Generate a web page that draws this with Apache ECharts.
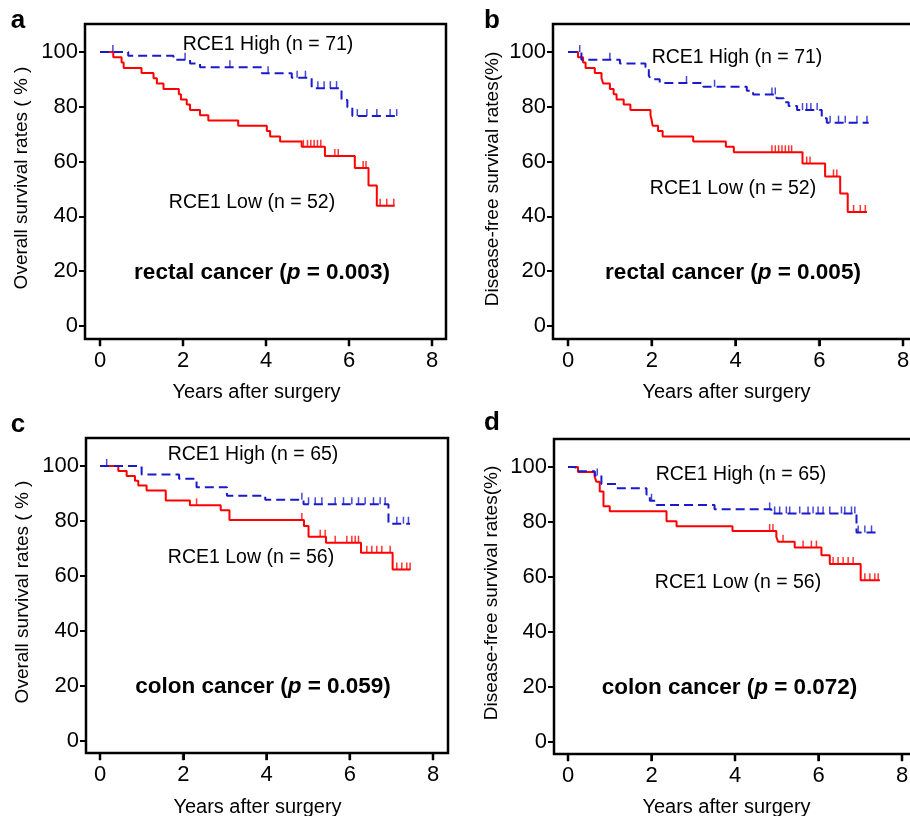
<!DOCTYPE html>
<html><head><meta charset="utf-8">
<script src="https://cdn.jsdelivr.net/npm/echarts@6/dist/echarts.min.js"></script>
<style>html,body{margin:0;padding:0;background:#fff}#c{width:910px;height:816px}</style>
</head><body><div id="c"></div><script>
// ---------- DATA (years after surgery, survival %) ----------
const xTicks = [0, 2, 4, 6, 8];
const yTicks = [0, 20, 40, 60, 80, 100];

// a: rectal cancer, overall survival
const aHigh = [[0,100],[0.68,98.6],[1.77,97.2],[2.17,95.8],[2.41,94.4],[3.9,92.2],[4.62,90.6],[5.1,86.8],[5.82,82.5],[5.96,79.8],[6.08,76.6],[7.18,76.6]];
const aHighCens = [0.31,2.05,3.13,4.05,4.75,4.95,5.25,5.4,5.55,5.7,6.2,6.43,6.67,6.99,7.15];
const aLow = [[0,100],[0.32,98.1],[0.52,96.2],[0.57,94.2],[1.0,92.3],[1.29,90.4],[1.37,88.5],[1.53,86.5],[1.9,84.6],[1.95,82.7],[2.09,80.8],[2.17,78.8],[2.41,76.9],[2.61,75.0],[3.33,73.1],[4.02,71.2],[4.1,69.2],[4.34,67.3],[4.86,65.4],[5.42,62.0],[6.14,57.7],[6.47,51.3],[6.67,43.9],[7.1,43.9]];
const aLowCens = [4.9,5.0,5.08,5.16,5.24,5.32,5.66,5.74,6.34,6.41,6.75,6.91,7.08];

// b: rectal cancer, disease-free survival
const bHigh = [[0,100],[0.32,97.2],[1.24,95.8],[1.85,94.4],[1.93,91.5],[1.97,90.1],[2.19,88.7],[3.23,87.3],[4.27,85.9],[4.42,84.5],[4.98,83.1],[5.15,81.7],[5.27,80.3],[5.47,78.8],[6.06,75.8],[6.18,74.2],[7.18,74.2]];
const bHighCens = [0.28,1.0,2.83,3.5,4.87,4.95,5.6,5.7,5.8,5.95,6.26,6.46,6.62,6.9,7.14];
const bLow = [[0,100],[0.24,98.1],[0.36,96.2],[0.42,94.2],[0.64,92.3],[0.8,90.4],[0.84,88.5],[1.0,86.5],[1.09,84.6],[1.16,82.7],[1.33,80.8],[1.49,78.8],[1.97,76.9],[2.0,75.0],[2.02,73.1],[2.15,71.2],[2.26,69.2],[2.99,67.3],[3.77,65.4],[3.96,63.4],[5.6,59.3],[6.14,54.6],[6.5,48.4],[6.68,41.6],[7.14,41.6]];
const bLowCens = [4.87,4.95,5.03,5.11,5.19,5.27,5.34,5.7,5.78,6.34,6.42,6.82,6.98,7.1];

// c: colon cancer, overall survival
const cHigh = [[0,100],[1.0,96.9],[1.9,95.4],[2.32,92.3],[3.05,89.2],[3.97,87.7],[4.89,86.1],[6.93,79.0],[7.45,79.0]];
const cHighCens = [0.16,4.85,5.01,5.17,5.33,5.65,5.85,6.05,6.21,6.37,6.57,6.73,6.85,7.13,7.29,7.41];
const cLow = [[0,100],[0.44,98.2],[0.64,96.4],[0.84,94.6],[0.92,92.9],[1.12,91.1],[1.58,87.5],[2.16,85.7],[2.9,83.9],[3.11,80.4],[4.9,78.2],[5.01,74.3],[5.43,72.1],[6.27,68.5],[7.03,62.4],[7.46,62.4]];
const cLowCens = [2.32,4.85,5.29,5.41,5.65,5.93,6.05,6.13,6.21,6.41,6.53,6.65,6.77,6.97,7.13,7.25,7.37,7.45];

// d: colon cancer, disease-free survival
const dHigh = [[0,100],[0.18,98.5],[0.64,96.9],[0.8,93.8],[1.16,92.3],[1.88,90.0],[1.96,87.7],[2.12,86.2],[3.51,84.6],[4.87,83.1],[6.91,76.2],[7.47,76.2]];
const dHighCens = [0.7,2.0,4.83,4.95,5.07,5.23,5.31,5.55,5.75,5.87,5.99,6.11,6.27,6.55,6.63,6.79,6.87,6.95,7.11,7.27];
const dLow = [[0,100],[0.24,98.2],[0.64,96.4],[0.68,94.6],[0.76,91.1],[0.85,85.7],[1.0,83.9],[2.36,80.3],[2.6,78.5],[3.94,76.7],[4.99,74.6],[5.03,72.8],[5.43,70.7],[6.07,67.9],[6.27,64.7],[7.01,58.8],[7.47,58.8]];
const dLowCens = [4.83,4.91,5.15,5.63,5.83,5.95,6.35,6.47,6.59,6.71,6.83,7.11,7.23,7.35,7.43];

const panelLetters = ['a','b','c','d'];
const yTitles = ['Overall survival rates ( % )','Disease-free survival rates(%)','Overall survival rates ( % )','Disease-free survival rates(%)'];
const xTitle = 'Years after surgery';
const highLabels = ['RCE1 High (n = 71)','RCE1 High (n = 71)','RCE1 High (n = 65)','RCE1 High (n = 65)'];
const lowLabels = ['RCE1 Low (n = 52)','RCE1 Low (n = 52)','RCE1 Low (n = 56)','RCE1 Low (n = 56)'];
const cancerNames = ['rectal cancer','rectal cancer','colon cancer','colon cancer'];
const pValues = ['0.003','0.005','0.059','0.072'];

// ---------- LAYOUT ----------
const FONT = '"Liberation Sans", Arial, Helvetica, sans-serif';
const RED = '#ff0000', BLUE = '#1a1acd';
const TICK_LEN = 7;
const panels = [
  {high:aHigh, highC:aHighCens, low:aLow, lowC:aLowCens,
   data:{left:100,top:52,width:332,height:274}, frame:{left:85,top:24,width:361,height:315},
   letter:[18,21], yT:[22,178], xT:[256.5,392], hi:[268,45], lo:[252,203], ct:[262,273]},
  {high:bHigh, highC:bHighCens, low:bLow, lowC:bLowCens,
   data:{left:568,top:52,width:335,height:274}, frame:{left:553,top:24,width:380,height:315},
   letter:[492,21], yT:[493,179], xT:[726.5,392], hi:[737,58], lo:[733,189], ct:[733,273]},
  {high:cHigh, highC:cHighCens, low:cLow, lowC:cLowCens,
   data:{left:100,top:466,width:333,height:275}, frame:{left:86,top:438,width:362,height:315},
   letter:[18,425], yT:[23,592], xT:[257.5,807], hi:[253,455], lo:[251,558], ct:[263,687]},
  {high:dHigh, highC:dHighCens, low:dLow, lowC:dLowCens,
   data:{left:568,top:467,width:334,height:275}, frame:{left:554,top:439,width:380,height:315},
   letter:[492,423], yT:[492,593], xT:[726.5,807], hi:[741,475], lo:[738,583], ct:[729.5,688]}
];

function valueAt(steps, t) {
  let v = steps[0][1];
  for (const p of steps) { if (p[0] <= t) v = p[1]; else break; }
  return v;
}

const xMin = xTicks[0], xMax = xTicks[xTicks.length-1];
const grid = [], xAxis = [], yAxis = [], series = [], graphic = [];
panels.forEach((p, i) => {
  grid.push(Object.assign({containLabel:false, outerBoundsMode:'none', show:false}, p.data));
  const yOff = p.data.left - p.frame.left;
  xAxis.push({type:'value', gridIndex:i, min:xMin, max:xMax, show:false});
  yAxis.push({type:'value', gridIndex:i, min:yTicks[0], max:yTicks[yTicks.length-1], interval:20,
    position:'left', offset:yOff,
    axisLine:{show:true, onZero:false, lineStyle:{color:'#000', width:2}}, splitLine:{show:false},
    axisTick:{show:true, length:6, lineStyle:{color:'#000', width:2}},
    axisLabel:{fontSize:22, color:'#000', fontFamily:FONT, margin:7}});
  series.push({type:'line', xAxisIndex:i, yAxisIndex:i, data:p.low, step:'end', symbol:'none',
    lineStyle:{color:RED, width:2}, z:2, silent:true});
  series.push({type:'scatter', xAxisIndex:i, yAxisIndex:i,
    data:p.lowC.map(t => [t, valueAt(p.low, t)]), symbol:'rect', symbolSize:[1.5,7], symbolOffset:[0,-3.5],
    itemStyle:{color:RED}, z:2, silent:true});
  series.push({type:'line', xAxisIndex:i, yAxisIndex:i, data:p.high, step:'end', symbol:'none',
    lineStyle:{color:BLUE, width:2, type:[9,5]}, z:3, silent:true});
  series.push({type:'scatter', xAxisIndex:i, yAxisIndex:i,
    data:p.highC.map(t => [t, valueAt(p.high, t)]), symbol:'rect', symbolSize:[1.5,7], symbolOffset:[0,-3.5],
    itemStyle:{color:BLUE}, z:3, silent:true});

  graphic.push({type:'text', x:p.letter[0], y:p.letter[1], silent:true,
    style:{text:panelLetters[i], font:'bold 26px '+FONT, fill:'#000', textAlign:'center', textVerticalAlign:'middle', align:'center', verticalAlign:'middle'}});
  graphic.push({type:'text', x:p.yT[0], y:p.yT[1], rotation:Math.PI/2, silent:true,
    style:{text:yTitles[i], font:'19px '+FONT, fill:'#000', textAlign:'center', textVerticalAlign:'middle', align:'center', verticalAlign:'middle'}});
  graphic.push({type:'text', x:p.xT[0], y:p.xT[1], silent:true,
    style:{text:xTitle, font:'20px '+FONT, fill:'#000', textAlign:'center', textVerticalAlign:'middle', align:'center', verticalAlign:'middle'}});
  graphic.push({type:'text', x:p.hi[0], y:p.hi[1], silent:true,
    style:{text:highLabels[i], font:'19.5px '+FONT, fill:'#000', textAlign:'center', textVerticalAlign:'middle', align:'center', verticalAlign:'middle'}});
  graphic.push({type:'text', x:p.lo[0], y:p.lo[1], silent:true,
    style:{text:lowLabels[i], font:'19.5px '+FONT, fill:'#000', textAlign:'center', textVerticalAlign:'middle', align:'center', verticalAlign:'middle'}});
  graphic.push({type:'text', x:p.ct[0], y:p.ct[1], silent:true,
    style:{text:'{b|'+cancerNames[i]+' (}{i|p}{b| = '+pValues[i]+')}',
      textAlign:'center', textVerticalAlign:'middle', align:'center', verticalAlign:'middle',
      rich:{b:{fontFamily:FONT, fontSize:22.5, fontWeight:'bold', fill:'#000', color:'#000'},
            i:{fontFamily:FONT, fontSize:22.5, fontWeight:'bold', fontStyle:'italic', fill:'#000', color:'#000'}}}});
  // year tick marks hanging below the frame, at the tick values of this panel's x scale
  const y0 = p.frame.top + p.frame.height;
  xTicks.forEach(t => {
    const px = p.data.left + (t - xMin) / (xMax - xMin) * p.data.width;
    graphic.push({type:'rect', silent:true, z:100, x:px - 1, y:y0,
      shape:{x:0, y:0, width:2, height:TICK_LEN}, style:{fill:'#000', stroke:'#000', lineWidth:0.5}});
  });
});
// frame grids (box around each panel)
panels.forEach((p, i) => {
  const gi = grid.length;
  grid.push(Object.assign({show:true, outerBoundsMode:'none', borderColor:'#000', borderWidth:2.5, backgroundColor:'transparent'}, p.frame));
  xAxis.push({type:'value', gridIndex:gi, show:false, min:0, max:1});
  yAxis.push({type:'value', gridIndex:gi, show:false, min:0, max:1});
});
// strips whose bottom edge is the frame's bottom edge: their x axis draws year ticks + labels
panels.forEach((p, i) => {
  const gi = grid.length;
  const bottomY = p.frame.top + p.frame.height;
  grid.push({show:false, outerBoundsMode:'none', containLabel:false,
    left:p.data.left, width:p.data.width, top:bottomY - 6, height:6});
  xAxis.push({type:'value', gridIndex:gi, min:xMin, max:xMax, interval:2, position:'bottom',
    axisLine:{show:false, onZero:false},
    axisTick:{show:true, inside:false, length:TICK_LEN, lineStyle:{color:'#000', width:2}},
    splitLine:{show:false},
    axisLabel:{fontSize:22, color:'#000', fontFamily:FONT, margin:11, showMinLabel:true, showMaxLabel:true}});
  yAxis.push({type:'value', gridIndex:gi, show:false, min:0, max:1});
});

const chart = echarts.init(document.getElementById('c'), null, {renderer:'canvas'});
chart.setOption({animation:false, backgroundColor:'#fff', grid, xAxis, yAxis, series, graphic});
</script></body></html>
